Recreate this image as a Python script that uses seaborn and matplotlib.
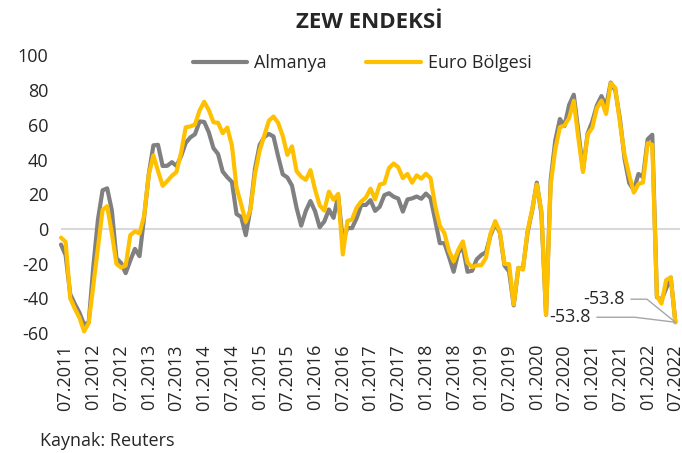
import numpy as np
import pandas as pd
import matplotlib
matplotlib.use("Agg")
import matplotlib.pyplot as plt
import seaborn as sns

# ZEW sentiment, monthly, 06.2011 - 07.2022
almanya = [
    -9.0, -15.1, -37.6, -43.3, -48.3, -55.2, -53.8,
    -21.6, 5.4, 22.3, 23.4, 10.8, -16.9, -19.6, -25.5, -18.2, -11.5, -15.7, 6.9,
    31.5, 48.2, 48.5, 36.3, 36.4, 38.5, 36.3, 42.0, 49.6, 52.8, 54.6, 62.0,
    61.7, 55.7, 46.6, 43.2, 33.1, 29.8, 27.1, 8.6, 6.9, -3.6, 11.5, 34.9,
    48.4, 53.0, 54.8, 53.3, 41.9, 31.5, 29.7, 25.0, 12.1, 1.9, 10.4, 16.1,
    10.2, 1.0, 4.3, 11.2, 6.4, 19.2, -6.8, 0.5, 0.5, 6.2, 13.8, 13.8,
    16.6, 10.4, 12.8, 19.5, 20.6, 18.6, 17.5, 10.0, 17.0, 17.6, 18.7, 17.4,
    20.4, 17.8, 5.1, -8.2, -8.2, -16.1, -24.7, -13.7, -10.6, -24.7, -24.1, -17.5,
    -15.0, -13.4, -3.6, 3.1, -2.1, -21.1, -24.5, -44.1, -22.5, -22.8, -2.1, 10.7,
    26.7, 8.7, -49.5, 28.2, 51.0, 63.4, 59.3, 71.5, 77.4, 56.1, 34.0, 55.0,
    61.8, 71.2, 76.6, 70.7, 84.4, 79.8, 63.3, 40.4, 26.5, 22.3, 31.7, 29.9,
    51.7, 54.3, -39.3, -41.0, -34.3, -28.0, -53.8,
]
euro_bolgesi = [
    -5.0, -7.5, -40.0, -46.0, -51.2, -59.1, -54.1,
    -32.5, -11.0, 11.0, 13.1, -2.4, -20.1, -22.3, -21.1, -3.6, -1.4, -2.6, 7.6,
    31.2, 42.4, 33.4, 24.9, 27.6, 30.6, 32.9, 44.0, 58.6, 59.1, 60.2, 68.3,
    73.3, 68.5, 61.5, 61.2, 55.2, 58.4, 48.1, 23.7, 14.2, 4.1, 11.0, 31.8,
    45.2, 53.7, 62.4, 64.8, 61.2, 53.7, 42.7, 47.6, 33.3, 30.1, 28.3, 33.9,
    22.7, 13.6, 10.6, 21.5, 16.8, 20.2, -14.7, 4.6, 5.4, 12.3, 15.8, 18.1,
    23.2, 17.1, 25.6, 26.3, 35.1, 37.7, 35.6, 29.3, 31.7, 26.7, 30.9, 29.0,
    31.8, 29.3, 13.4, 1.9, -2.4, -12.6, -18.7, -12.1, -7.2, -19.4, -22.0, -21.0,
    -20.9, -16.6, -2.5, 4.5, -1.6, -20.2, -20.3, -43.6, -22.4, -23.5, -1.0, 11.2,
    25.6, 10.4, -49.5, 25.2, 46.0, 58.6, 59.6, 64.0, 73.9, 52.3, 32.8, 54.4,
    58.3, 69.6, 74.0, 66.3, 84.0, 81.3, 61.2, 42.7, 31.1, 21.0, 25.9, 26.8,
    49.4, 48.6, -38.7, -43.0, -29.5, -28.0, -53.8,
]
months = pd.date_range("2011-06-01", periods=len(almanya), freq="MS")
series_names = ["Almanya", "Euro Bölgesi"]
colors = ["#808080", "#FFC000"]
yticks = [-60, -40, -20, 0, 20, 40, 60, 80, 100]
last_label = "-53.8"

df = pd.DataFrame({
    "i": np.tile(np.arange(len(months)), 2),
    "value": almanya + euro_bolgesi,
    "seri": np.repeat(series_names, len(months)),
})

sns.set_theme(style="white")
plt.rcParams["font.family"] = ["Open Sans", "DejaVu Sans"]

fig = plt.figure(figsize=(6.82, 4.53), dpi=100)
ax = fig.add_axes([61 / 682, 1 - 333 / 453, 619 / 682, 277.5 / 453])

ax.axhline(0, color="#d9d9d9", lw=1.5, zorder=0)
sns.lineplot(data=df, x="i", y="value", hue="seri", hue_order=series_names,
             palette=colors, lw=3, ax=ax, legend=True,
             solid_capstyle="round", solid_joinstyle="round", clip_on=False)

ax.set_xlim(0, len(months))
ax.set_ylim(-60, 100)
ax.set_yticks(yticks)
ax.set_yticklabels([str(t) for t in yticks], fontsize=13)
tick_idx = np.arange(1, len(months), 6)
ax.set_xticks(tick_idx)
ax.set_xticklabels(months[tick_idx].strftime("%m.%Y"), rotation=90, fontsize=13)
ax.tick_params(axis="y", length=0, pad=9)
ax.tick_params(axis="x", length=0, pad=8)
ax.set_xlabel("")
ax.set_ylabel("")
sns.despine(ax=ax, left=True, bottom=True)

ax.legend(loc="center", bbox_to_anchor=(0.531, 0.861), bbox_transform=fig.transFigure,
          ncol=2, frameon=False, handlelength=3.0, handletextpad=0.4,
          columnspacing=2.2, fontsize=13)

# leader labels for the last point
end_x = len(months) - 1
lead = dict(arrowstyle="-", color="#a6a6a6", lw=1, shrinkA=0, shrinkB=0)
ax.annotate(last_label, xy=(end_x, almanya[-1]), xytext=(-51.5, 16.6),
            textcoords="offset points", ha="center", va="center", fontsize=13,
            bbox=dict(boxstyle="square,pad=0.35", fc="none", ec="none"),
            arrowprops=dict(connectionstyle="angle,angleA=0,angleB=141,rad=0", **lead))
ax.annotate(last_label, xy=(end_x, euro_bolgesi[-1]), xytext=(-76, 3.6),
            textcoords="offset points", ha="center", va="center", fontsize=13,
            bbox=dict(boxstyle="square,pad=0.35", fc="none", ec="none"),
            arrowprops=dict(connectionstyle="angle,angleA=0,angleB=173,rad=0", **lead))

fig.text(369 / 682, 1 - 28 / 453, "ZEW ENDEKSİ", ha="center", va="baseline",
         fontsize=16, fontweight="bold")
fig.text(40 / 682, 1 - 441 / 453, "Kaynak: Reuters", ha="left", va="center", fontsize=13)

fig.savefig("out.png", dpi=100)
